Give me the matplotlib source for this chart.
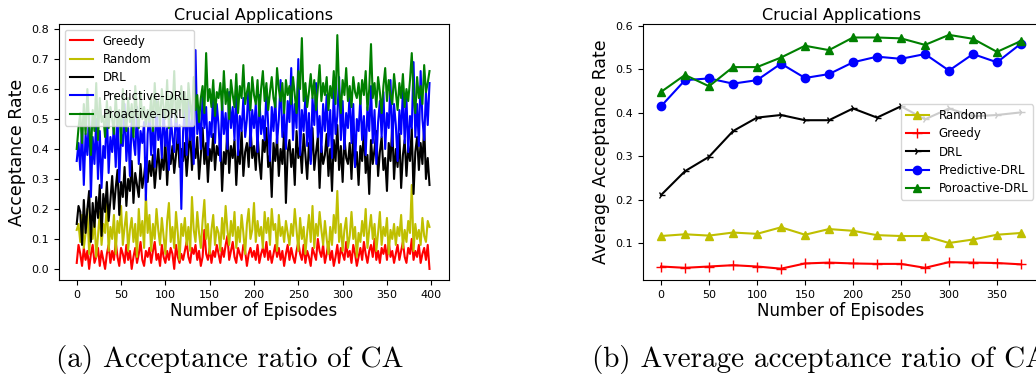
import numpy as np
import matplotlib
matplotlib.use("Agg")
import matplotlib.pyplot as plt

# ---------------- Panel (a): per-episode acceptance rate (values in %) ----------------
episodes_a = list(range(0, 400, 2))

greedy_pct = [2,8,5,1,7,3,6,0,5,8,2,4,7,1,6,3,0,5,8,2,
              6,3,9,4,1,7,5,2,8,3,6,0,4,7,2,5,9,3,1,6,
              4,7,2,6,9,3,5,1,8,4,2,6,3,7,5,0,8,4,2,5,
              3,6,9,4,2,7,5,8,3,6,1,4,13,5,3,7,2,6,4,8,
              5,2,7,4,8,11,3,6,9,4,2,7,5,3,8,6,1,5,7,4,
              6,3,8,2,5,7,4,9,3,6,2,5,8,4,7,3,6,1,5,8,
              3,7,4,2,6,9,5,3,8,2,6,4,1,7,5,3,10,6,4,8,
              2,5,9,3,6,1,4,8,2,7,5,3,9,4,6,2,8,5,1,4,
              7,3,9,5,2,6,8,4,10,3,6,2,7,5,8,3,9,4,6,2,
              5,8,3,6,9,4,2,7,5,10,3,6,4,8,2,5,7,3,8,0]

random_pct = [13,15,9,18,7,12,20,5,14,10,17,4,11,19,8,15,12,22,6,14,
              10,18,5,16,12,21,8,14,19,6,13,17,9,15,4,20,11,16,7,25,
              12,18,6,15,10,20,13,8,17,11,5,16,22,9,14,7,19,12,3,15,
              11,17,8,14,6,24,13,9,19,12,7,16,23,10,15,5,13,18,8,14,
              12,6,17,10,21,13,8,16,11,19,7,14,9,18,12,5,15,20,10,13,
              22,9,16,11,14,7,19,12,17,8,20,13,15,6,18,11,14,9,16,12,
              8,15,11,20,13,6,17,10,14,5,12,18,9,21,7,15,11,19,13,8,
              16,10,5,14,8,18,12,26,9,15,6,13,17,7,11,19,10,14,4,12,
              9,16,11,20,7,13,18,10,15,6,12,19,8,14,11,17,5,13,10,15,
              8,14,11,18,7,13,9,16,12,28,6,15,10,13,8,17,11,9,16,14]

drl_pct = [15,21,19,8,23,12,20,26,9,22,14,24,17,28,11,25,19,29,16,23,
           31,20,27,33,18,29,24,34,21,30,26,36,22,32,28,24,35,27,31,37,
           29,36,31,38,27,34,40,30,37,33,43,28,39,35,41,32,38,45,34,40,
           36,42,31,39,46,33,41,37,44,30,38,47,35,42,29,40,36,45,33,41,
           38,44,26,39,35,47,32,41,37,43,28,40,35,46,31,39,42,34,48,37,
           41,33,45,36,30,43,39,47,34,38,24,42,36,44,31,40,35,46,22,39,
           43,34,40,28,46,37,41,32,45,38,30,42,36,47,33,39,44,27,41,35,
           38,45,31,40,26,43,36,48,33,41,29,44,37,35,42,30,46,34,39,28,
           41,36,47,32,38,25,43,35,40,46,31,39,44,33,37,26,42,36,48,30,
           40,34,45,27,38,43,31,41,36,47,25,39,44,33,42,35,48,30,37,28]

predictive_pct = [36,42,33,48,28,45,38,52,24,44,35,50,30,46,27,41,37,53,32,44,
                  39,48,34,52,29,45,41,55,36,47,31,50,43,38,54,35,46,42,49,23,
                  45,52,38,49,34,56,43,48,37,53,41,47,33,51,44,39,55,42,48,20,
                  46,53,38,57,43,50,35,73,45,52,40,58,47,54,38,49,44,60,42,55,
                  48,36,56,45,52,40,59,47,54,43,61,38,51,46,57,44,50,62,41,53,
                  47,55,39,58,45,51,43,60,48,36,54,46,57,42,50,63,44,52,40,56,
                  49,67,43,55,47,70,38,53,46,58,41,52,35,57,48,62,44,51,39,55,
                  46,58,41,53,37,60,45,51,64,43,56,40,52,47,59,42,55,34,50,46,
                  57,43,51,38,54,46,61,42,53,35,49,56,44,59,40,52,47,63,41,55,
                  48,36,53,45,60,42,57,39,51,47,69,44,55,41,66,50,43,59,48,62]

proactive_pct = [40,47,52,42,55,45,60,48,38,53,46,62,43,57,49,51,44,56,47,54,
                 50,45,58,48,53,42,60,51,46,57,49,55,44,61,52,47,59,50,54,48,
                 53,49,58,46,62,51,56,48,60,54,50,63,47,58,52,66,49,57,53,61,
                 51,59,48,62,55,50,64,53,58,49,57,61,52,72,56,60,54,63,51,59,
                 57,62,53,66,55,60,50,63,58,54,65,52,61,57,68,55,59,62,53,64,
                 58,55,63,51,60,66,56,62,53,59,64,57,54,67,60,56,62,52,63,58,
                 61,55,64,58,52,66,60,77,56,62,54,59,65,57,63,53,60,68,56,62,
                 58,64,53,61,57,66,55,78,60,52,63,58,67,56,61,54,64,59,57,62,
                 55,63,58,66,53,60,75,57,62,54,64,59,52,61,67,56,63,58,55,65,
                 59,53,62,57,65,54,60,56,63,72,58,52,64,57,61,55,68,59,62,66]

# ---------------- Panel (b): averaged acceptance rate ----------------
episodes_b = [0, 25, 50, 75, 100, 125, 150, 175, 200, 225, 250, 275, 300, 325, 350, 375]
avg_random = [0.117, 0.121, 0.118, 0.125, 0.122, 0.137, 0.120, 0.133, 0.129, 0.119,
              0.117, 0.117, 0.101, 0.109, 0.120, 0.124]
avg_greedy = [0.047, 0.044, 0.047, 0.050, 0.047, 0.042, 0.054, 0.056, 0.054, 0.053,
              0.053, 0.044, 0.057, 0.056, 0.055, 0.052]
avg_drl = [0.211, 0.266, 0.299, 0.358, 0.389, 0.395, 0.383, 0.383, 0.410, 0.389,
           0.415, 0.385, 0.410, 0.392, 0.395, 0.401]
avg_predictive = [0.415, 0.475, 0.479, 0.467, 0.475, 0.513, 0.480, 0.489, 0.516, 0.529,
                  0.524, 0.535, 0.497, 0.535, 0.516, 0.559]
avg_proactive = [0.448, 0.487, 0.461, 0.505, 0.505, 0.527, 0.554, 0.544, 0.573, 0.573,
                 0.571, 0.556, 0.579, 0.570, 0.540, 0.565]

title = "Crucial Applications"
caption_a = "(a) Acceptance ratio of CA"
caption_b = "(b) Average acceptance ratio of CA"

fig = plt.figure(figsize=(10.36, 3.81), dpi=100)
W, H = 1036.0, 381.0

# Left panel
ax1 = fig.add_axes([59 / W, (H - 280) / H, 390 / W, 256 / H])
lw = 1.5
ax1.plot(episodes_a, np.array(greedy_pct) / 100, color="r", lw=lw, label="Greedy")
ax1.plot(episodes_a, np.array(random_pct) / 100, color="y", lw=lw, label="Random")
ax1.plot(episodes_a, np.array(drl_pct) / 100, color="k", lw=lw, label="DRL")
ax1.plot(episodes_a, np.array(predictive_pct) / 100, color="b", lw=lw, label="Predictive-DRL")
ax1.plot(episodes_a, np.array(proactive_pct) / 100, color="g", lw=lw, label="Proactive-DRL")
ax1.set_xlim(-20, 420)
ax1.set_ylim(-0.037, 0.817)
ax1.set_xticks([0, 50, 100, 150, 200, 250, 300, 350, 400])
ax1.set_yticks([0.0, 0.1, 0.2, 0.3, 0.4, 0.5, 0.6, 0.7, 0.8])
ax1.set_title(title, fontsize=11.5, pad=3)
ax1.set_xlabel("Number of Episodes", fontsize=12, labelpad=2)
ax1.set_ylabel("Acceptance Rate", fontsize=12.5, labelpad=4)
ax1.tick_params(labelsize=8)
ax1.legend(loc="upper left", fontsize=8.5, handlelength=2.0, borderaxespad=0.5,
           labelspacing=0.45)

# Right panel
ax2 = fig.add_axes([643 / W, (H - 280) / H, 396 / W, 256 / H])
ax2.plot(episodes_b, avg_random, color="y", marker="^", ms=6, lw=1.5, label="Random")
ax2.plot(episodes_b, avg_greedy, color="r", marker="+", ms=7, lw=1.5, label="Greedy")
ax2.plot(episodes_b, avg_drl, color="k", marker="4", ms=6, lw=1.5, label="DRL")
ax2.plot(episodes_b, avg_predictive, color="b", marker="o", ms=6, lw=1.5, label="Predictive-DRL")
ax2.plot(episodes_b, avg_proactive, color="g", marker="^", ms=6, lw=1.5, label="Poroactive-DRL")
ax2.set_xlim(-18.75, 393.75)
ax2.set_ylim(0.016, 0.604)
ax2.set_xticks([0, 50, 100, 150, 200, 250, 300, 350])
ax2.set_yticks([0.1, 0.2, 0.3, 0.4, 0.5, 0.6])
ax2.set_title(title, fontsize=11.5, pad=3)
ax2.set_xlabel("Number of Episodes", fontsize=12, labelpad=2)
ax2.set_ylabel("Average Acceptance Rate", fontsize=12.5, labelpad=4)
ax2.tick_params(labelsize=8)
ax2.legend(loc="center right", fontsize=8.5, borderaxespad=0.5, labelspacing=0.45)

# Captions
fig.text(230 / W, 1 - 360 / H, caption_a, family="cmr10", fontsize=21,
         ha="center", va="center")
fig.text(592 / W, 1 - 360 / H, caption_b, family="cmr10", fontsize=21,
         ha="left", va="center")

fig.savefig("out.png", dpi=100)
